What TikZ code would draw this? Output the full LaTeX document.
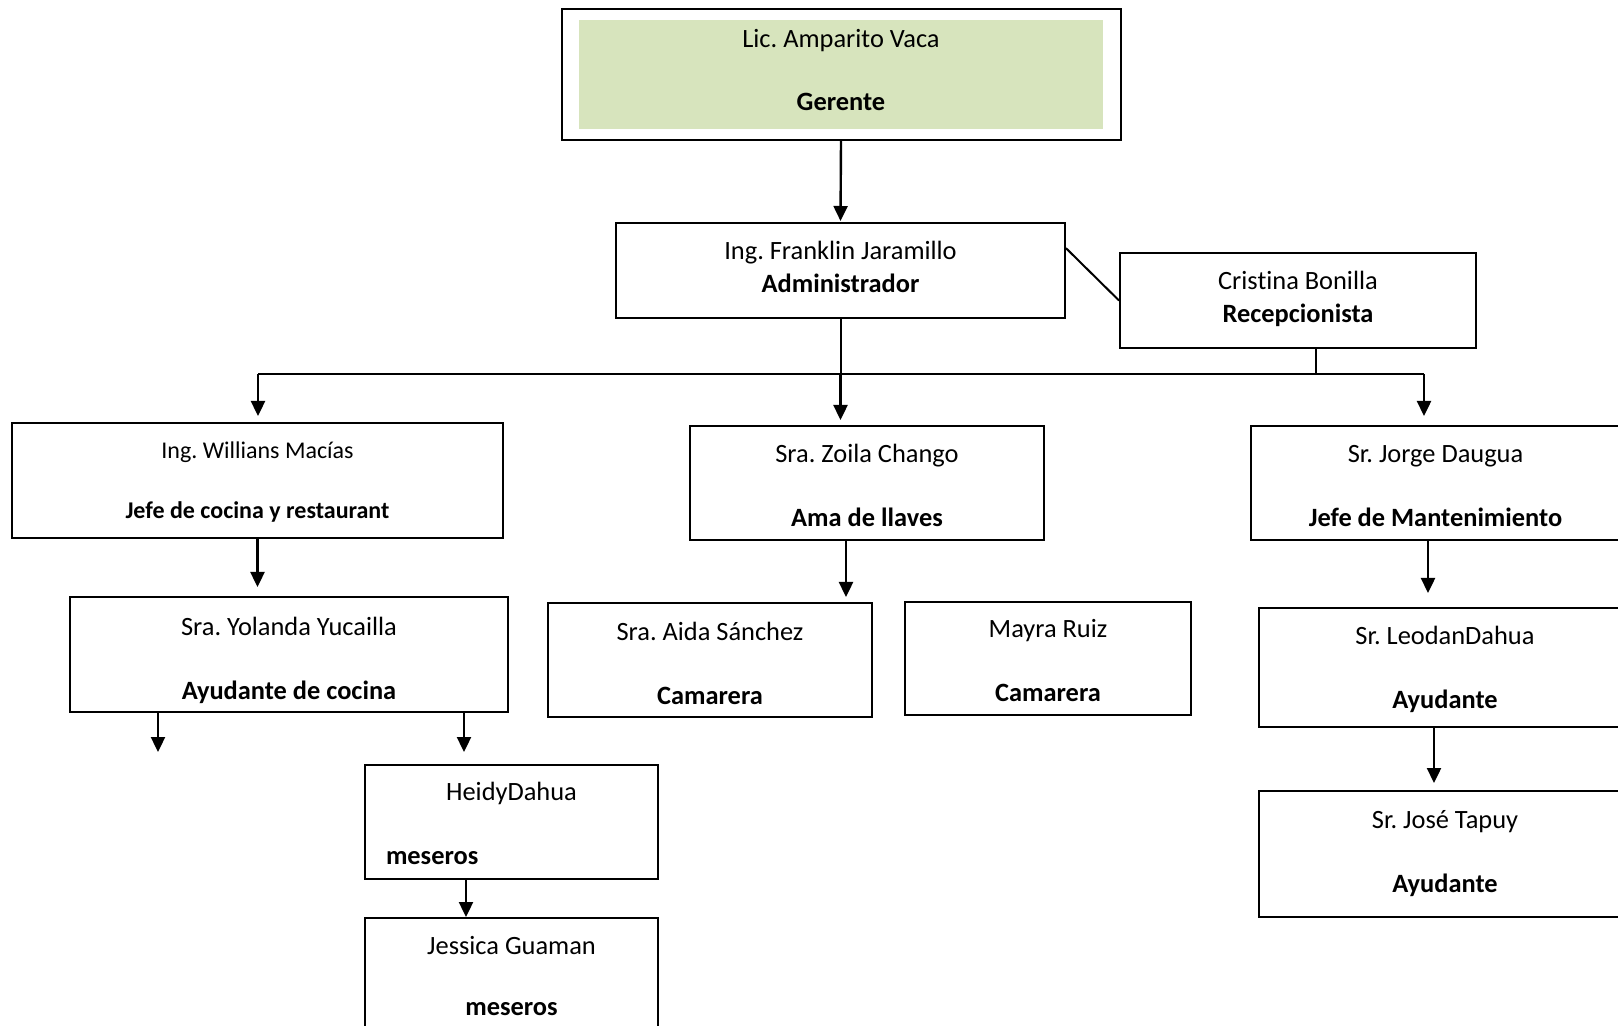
\documentclass[tikz,border=0pt]{standalone}
\usepackage{fontspec}
\setmainfont{Carlito}[Ligatures=NoCommon]
\usepackage{xcolor}
\usetikzlibrary{arrows.meta, positioning, calc, fit}
\definecolor{gerfill}{HTML}{D7E4BD}
\tikzset{box/.style={draw, line width=1pt, inner sep=0pt},
         txt/.style={align=center, inner sep=0pt, font=\fontsize{13.2}{16.5}\selectfont},
         arr/.style={line width=1.2pt, shorten >=3pt, -{Triangle[length=7.5pt,width=7pt]}},
         link/.style={line width=1pt}
        }
\frenchspacing

\begin{document}
\begin{tikzpicture}[x=0.5pt, y=-0.5pt]
\useasboundingbox (0,0) rectangle (1618,1026);

%Top
\node[box, draw=none, fill=gerfill, minimum width=262pt, minimum height=54.5pt] (ger) at (841,74.5) {};
\node[draw, line width=1pt, fit=(ger), inner xsep=8.25pt, inner ysep=5pt] (gerframe) {};
\node[txt] (gert) at ([yshift=2pt]ger) {Lic. Amparito Vaca\\[15pt]\textbf{Gerente}};

\node[box, minimum width=224.5pt, minimum height=47.5pt] (admin) at (840.5,270.5) {};
\node[txt] (admint) at ([yshift=2pt]admin) {Ing. Franklin Jaramillo\\\textbf{Administrador}};
\node[box, minimum width=178pt, minimum height=47.5pt] (recep) at (1298,300.5) {};
\node[txt] (recept) at ([yshift=1pt]recep) {Crist\kern0pt ina Bonilla\\\textbf{Recepcionista}};

%Second level
\node[box, minimum width=245.5pt, minimum height=57.5pt] (will) at (257.5,480.5) {};
\node[txt, font=\fontsize{12}{15}\selectfont] (willt) at ([yshift=-1pt]will)
  {Ing. Willians Macías\\[15pt]\textbf{Jefe de cocina y restaurant}};
\node[box, minimum width=177pt, minimum height=57pt] (zoila) at (867,483) {};
\node[txt] (zoilat) at ([yshift=-1pt]zoila) {Sra. Zoila Chango\\[15.5pt]\textbf{Ama de llaves}};
\node[box, minimum width=184.5pt, minimum height=57pt] (jorge) at (1435.5,483) {};
\node[txt] (jorget) at ([yshift=-1.5pt]jorge) {Sr. Jorge Daugua\\[15.5pt]\textbf{Jefe de Mantenimiento}};

%Third level
\node[box, minimum width=219pt, minimum height=57.5pt] (yol) at (289,654.5) {};
\node[txt] (yolt) at ([yshift=-2.8pt]yol) {Sra. Yolanda Yucailla\\[15.5pt]\textbf{Ayudante de cocina}};
\node[box, minimum width=162pt, minimum height=57pt] (aida) at (710,660) {};
\node[txt] (aidat) at ([yshift=-1.5pt]aida) {Sra. Aida Sánchez\\[15.5pt]\textbf{Camarera}};
\node[box, minimum width=143pt, minimum height=56.5pt] (mayra) at (1048,658.5) {};
\node[txt] (mayrat) at ([yshift=-1pt]mayra) {Mayra Ruiz\\[15.5pt]\textbf{Camarera}};
\node[box, minimum width=186pt, minimum height=59.5pt] (leodan) at (1445,667.5) {};
\node[txt] (leodant) at ([yshift=-1pt]leodan) {Sr. LeodanDahua\\[15.5pt]\textbf{Ayudante}};

%Bottom
\node[box, minimum width=146.5pt, minimum height=57pt] (heidy) at (511.5,822) {};
\node[txt, text width=125.5pt] (heidyt) at ([yshift=-0.8pt]heidy)
  {HeidyDahua\\[15.5pt]\makebox[\linewidth][l]{\textbf{meseros}}};
\node[box, minimum width=146.5pt, minimum height=58.5pt] (jess) at (511.5,976.5) {};
\node[txt] (jesst) at (jess) {Jessica Guaman\\[14pt]\textbf{meseros}};
\node[box, minimum width=186pt, minimum height=63pt] (jose) at (1445,854) {};
\node[txt] (joset) at (jose) {Sr. José Tapuy\\[15.5pt]\textbf{Ayudante}};

%Connectors
\coordinate (busL) at (258,374);
\coordinate (busR) at (1424,374);
\coordinate (yolA) at (158,752);
\coordinate (yolB) at (464,752);

\draw[arr, shorten >=0.5pt] (gerframe.south) -- (admin.north);
\draw[link] ($(admin.north east)!0.27!(admin.south east)$) -- (recep.west);
\draw[link] (busL) -- (busR);
\draw[link] (admin.south) -- (admin.south |- busL);
\draw[link] ([xshift=9pt]recep.south) -- ([xshift=9pt]recep.south |- busL);
\draw[arr, shorten >=2.5pt] (admin.south |- busL) -- (admin.south |- zoila.north);
\draw[arr] (busL) -- (busL |- will.north);
\draw[arr, shorten >=4.5pt] (busR) -- (busR |- jorge.north);

\draw[arr, shorten >=4.5pt] (will.south) -- (will.south |- yol.north);
\draw[arr, shorten >=0pt] ([yshift=1pt]yolA |- yol.south) -- (yolA);
\draw[arr, shorten >=0pt] (yolB |- yol.south) -- (yolB);
\draw[arr, shorten >=2.5pt] ([xshift=-10.5pt]zoila.south) -- ([xshift=-10.5pt]zoila.south |- aida.north);
\draw[arr, shorten >=7pt] ([xshift=-3.75pt]jorge.south) -- ([xshift=-3.75pt]jorge.south |- leodan.north);
\draw[arr, shorten >=3.5pt] ([xshift=-5.5pt]leodan.south) -- ([xshift=-5.5pt]leodan.south |- jose.north);
\draw[arr, shorten >=0pt] ([xshift=-22.75pt]heidy.south) -- ([xshift=-22.75pt]heidy.south |- jess.north);
\end{tikzpicture}
\end{document}
